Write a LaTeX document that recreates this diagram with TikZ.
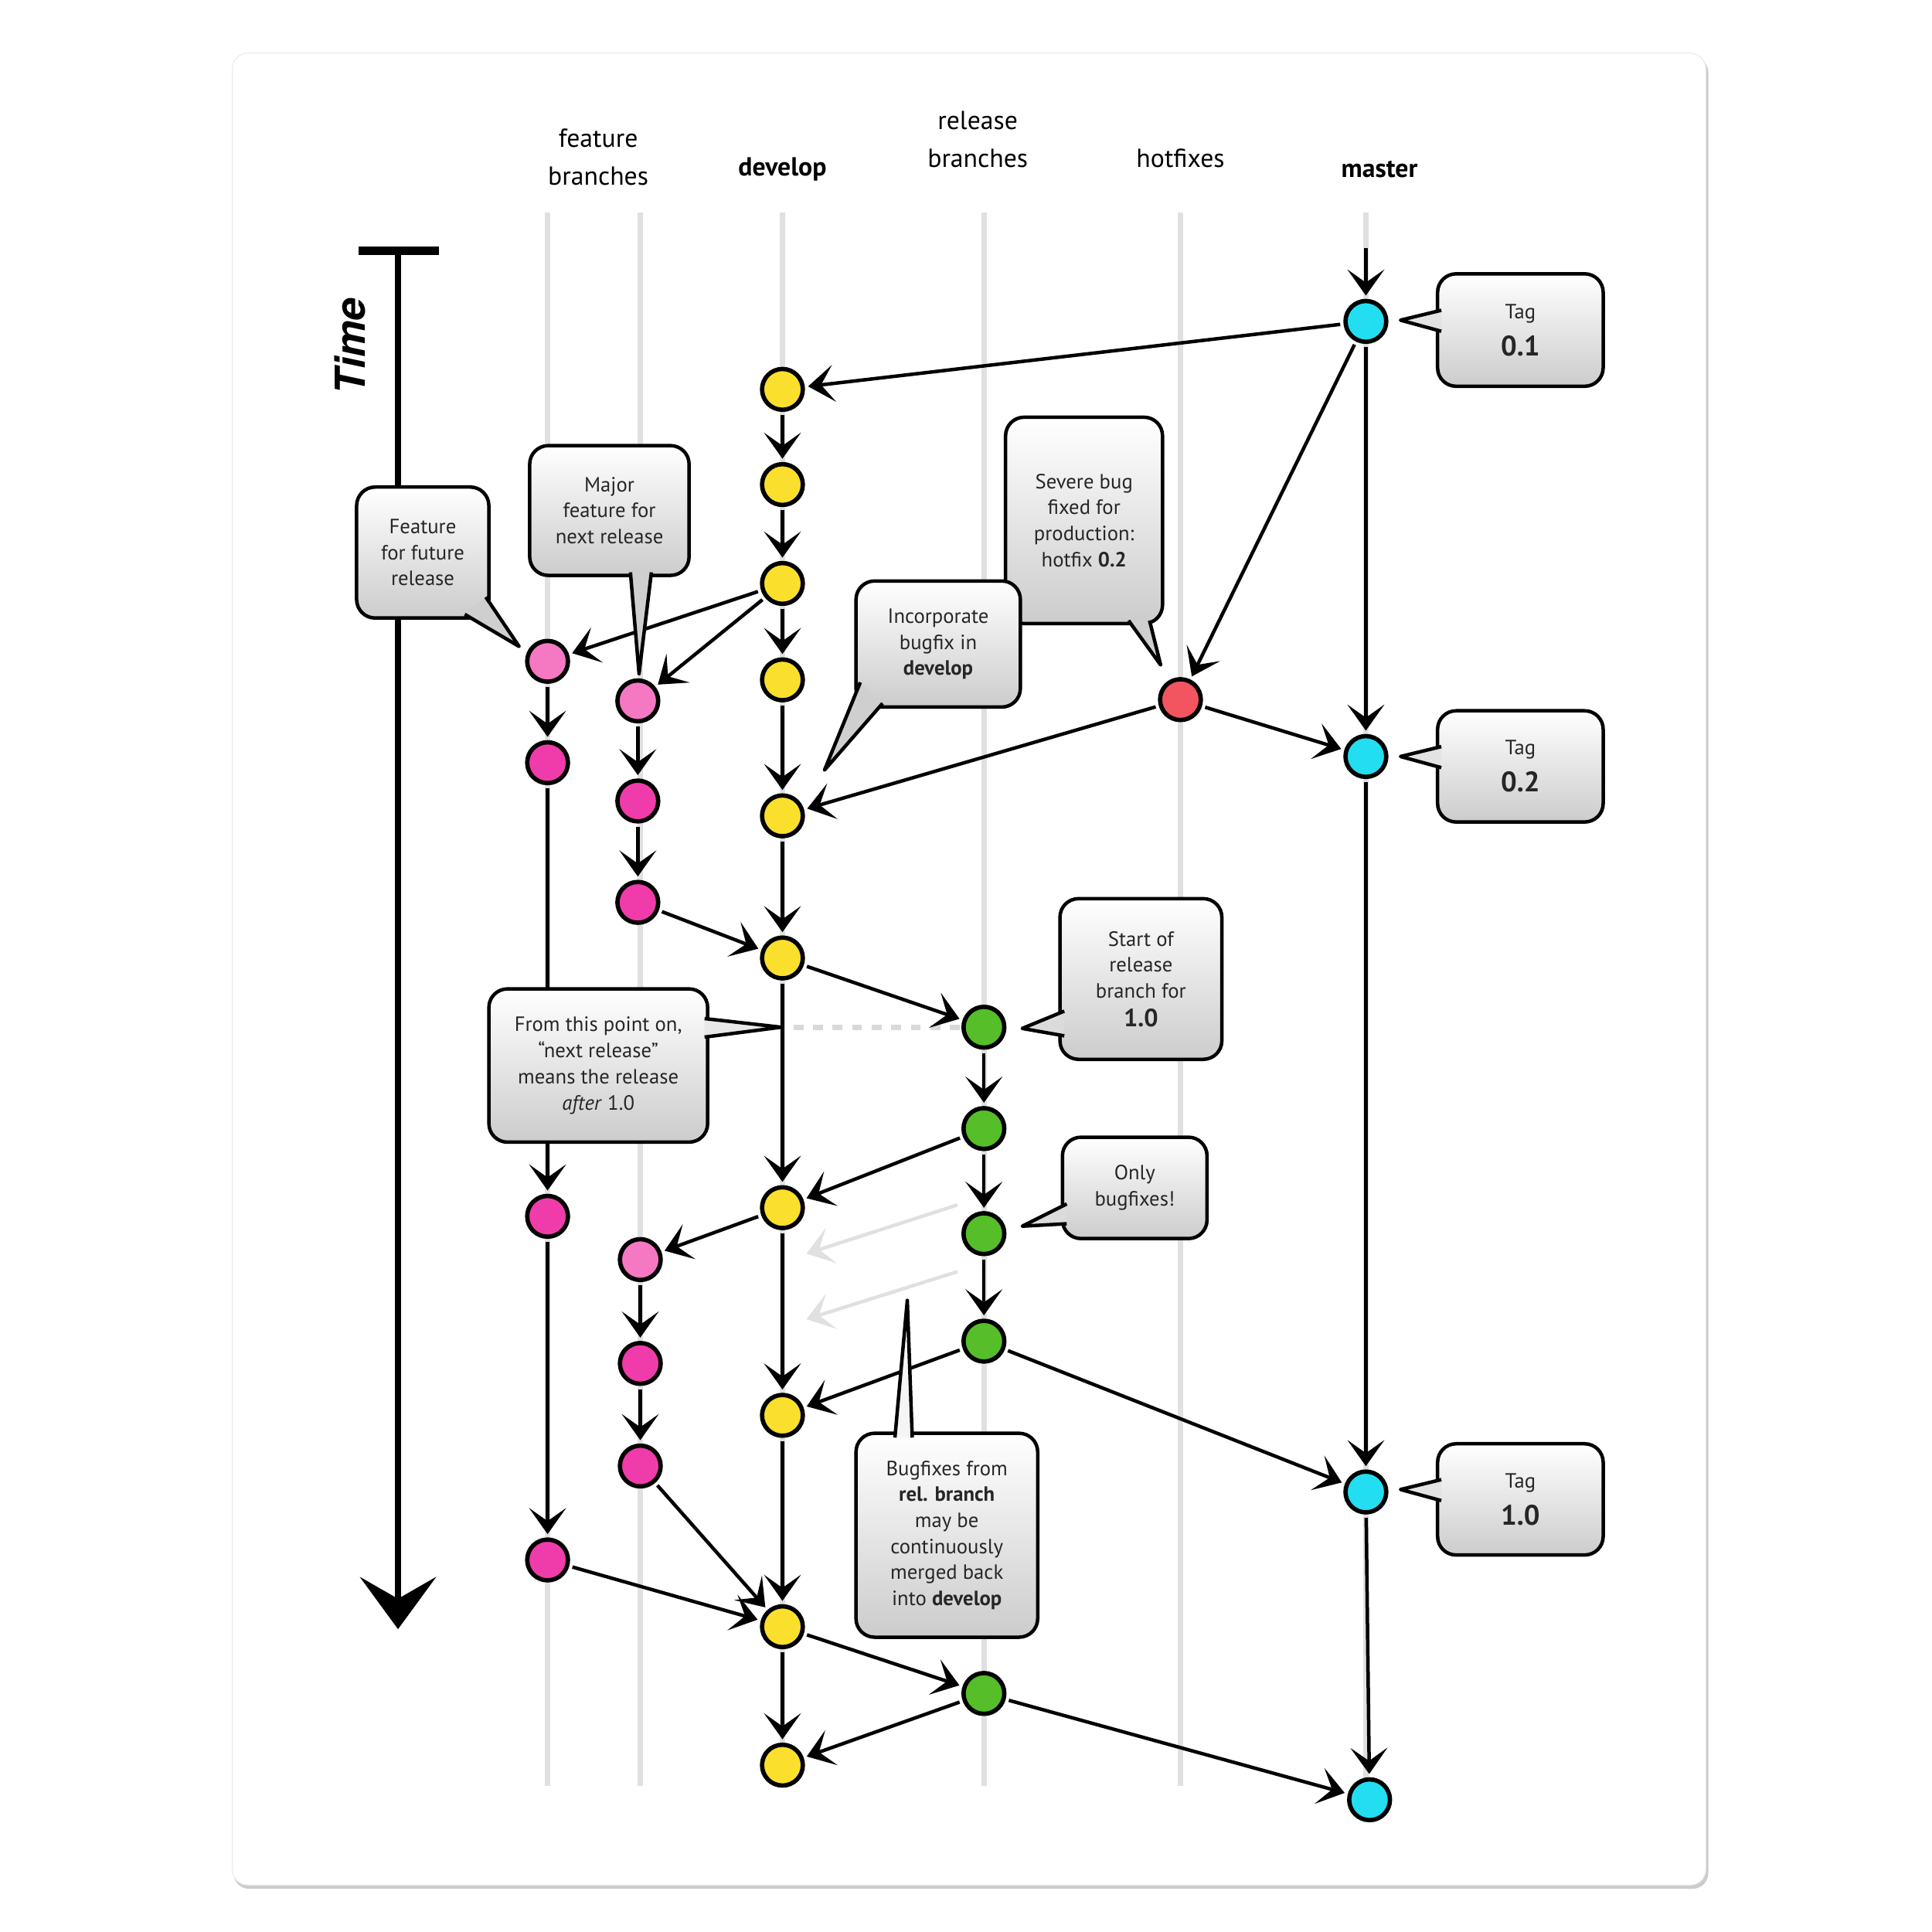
\documentclass[tikz,border=0pt]{standalone}
\usepackage{fontspec}
\setmainfont{PT Sans}
\newfontfamily\timefont{TeX Gyre Heros}
\usepackage{xcolor}
\usepackage{tikz}
\usetikzlibrary{arrows.meta, calc}

\definecolor{devyellow}{RGB}{250,224,45}
\definecolor{mastercyan}{RGB}{35,222,240}
\definecolor{hotred}{RGB}{242,85,95}
\definecolor{relgreen}{RGB}{85,190,40}
\definecolor{featpink}{RGB}{240,60,170}
\definecolor{featlight}{RGB}{245,120,195}

\tikzset{
  commit/.style={circle, draw=black, line width=2pt, minimum size=0.66cm, inner sep=0pt},
  flow/.style={line width=1.6pt, -{Stealth[length=12pt, width=17pt, inset=6pt]}, shorten >=1.5pt, shorten <=1.5pt},
  lane/.style={black!12, line width=2.5pt},
  bubble/.style={draw=black, line width=1.6pt, rounded corners=0.3cm, top color=white, bottom color=black!20,
    align=center, inner sep=2pt, font=\fontsize{9.5}{12}\selectfont, text=black!85},
  bubbletip/.style={draw=black, line width=1.6pt, fill=black!#1, line join=round},
  header/.style={font=\fontsize{12}{17.5}\selectfont, align=center}
}

\begin{document}
\begin{tikzpicture}[x=0.02cm, y=-0.02cm]
    \useasboundingbox (0,0) rectangle (1563,1563);

    % Card
    \fill[black!20, rounded corners=0.25cm] (189,46) rectangle (1382,1528);
    \draw[black!8, fill=white, rounded corners=0.25cm] (188,43) rectangle (1380,1525);

    % Headers
    \node[header] (hfeature) at (484,127) {feature\\branches};
    \node[header, font=\fontsize{12}{17.5}\selectfont\bfseries] (hdevelop) at (633,137) {develop};
    \node[header] (hrelease) at (791,113) {release\\branches};
    \node[header] (hhotfix) at (955,128) {hotfixes};
    \node[header, font=\fontsize{12}{17.5}\selectfont\bfseries] (hmaster) at (1116,137) {master};

    % Lanes
    \draw[lane] (443,172) -- (443,1445);
    \draw[lane] (518,172) -- (518,1445);
    \draw[lane] (633,172) -- (633,1445);
    \draw[lane] (796,172) -- (796,1445);
    \draw[lane] (955,172) -- (955,1445);
    \draw[lane] (1105,172) -- (1105,1445);

    % Time
    \draw[line width=4pt] (290,203) -- (355,203);
    \coordinate (ttop) at (322,205);
    \coordinate (tbot) at (322,1318);
    \draw[line width=2.8pt, -{Stealth[length=24pt, width=35pt, inset=10pt]}] (ttop) -- (tbot);
    \node[rotate=90, font=\timefont\fontsize{19}{22}\selectfont\bfseries\itshape] (tlabel) at (283,280) {Time};

    % Commits: master
    \node[commit, fill=mastercyan] (m1) at (1105,260) {};
    \node[commit, fill=mastercyan] (m2) at (1105,612) {};
    \node[commit, fill=mastercyan] (m3) at (1105,1207) {};
    \node[commit, fill=mastercyan] (m4) at (1108,1456) {};
    % hotfix
    \node[commit, fill=hotred] (hf) at (955,566) {};
    % develop
    \node[commit, fill=devyellow] (d1) at (633,315) {};
    \node[commit, fill=devyellow] (d2) at (633,392) {};
    \node[commit, fill=devyellow] (d3) at (633,472) {};
    \node[commit, fill=devyellow] (d4) at (633,550) {};
    \node[commit, fill=devyellow] (d5) at (633,660) {};
    \node[commit, fill=devyellow] (d6) at (633,775) {};
    \node[commit, fill=devyellow] (d7) at (633,977) {};
    \node[commit, fill=devyellow] (d8) at (633,1145) {};
    \node[commit, fill=devyellow] (d9) at (633,1316) {};
    \node[commit, fill=devyellow] (d10) at (633,1428) {};
    % feature branches
    \node[commit, fill=featlight] (fa1) at (443,535) {};
    \node[commit, fill=featpink] (fa2) at (443,617) {};
    \node[commit, fill=featpink] (fa3) at (443,984) {};
    \node[commit, fill=featpink] (fa4) at (443,1262) {};
    \node[commit, fill=featlight] (fb1) at (516,567) {};
    \node[commit, fill=featpink] (fb2) at (516,648) {};
    \node[commit, fill=featpink] (fb3) at (516,730) {};
    \node[commit, fill=featlight] (fb4) at (518,1019) {};
    \node[commit, fill=featpink] (fb5) at (518,1103) {};
    \node[commit, fill=featpink] (fb6) at (518,1186) {};
    % release
    \node[commit, fill=relgreen] (r1) at (796,831) {};
    \node[commit, fill=relgreen] (r2) at (796,913) {};
    \node[commit, fill=relgreen] (r3) at (796,998) {};
    \node[commit, fill=relgreen] (r4) at (796,1085) {};
    \node[commit, fill=relgreen] (r5) at (796,1370) {};

    % Dashed marker and faded merges
    \coordinate (cut) at (642,831);
    \draw[black!15, line width=2.5pt, dash pattern=on 4.5pt off 4.5pt] (cut) -- (r1);
    \coordinate (fade1) at (777,974);
    \coordinate (fade2) at (650,1015);
    \coordinate (fade3) at (777,1028);
    \coordinate (fade4) at (650,1068);
    \draw[flow, black!12] (fade1) -- (fade2);
    \draw[flow, black!12] (fade3) -- (fade4);

    % Master line
    \coordinate (mtop) at (1105,198);
    \draw[flow] (mtop) -- (m1);
    \draw[flow] (m1) -- (m2);
    \draw[flow] (m2) -- (m3);
    \draw[flow] (m3) -- (m4);
    \draw[flow] (m1) -- (d1);
    \draw[flow] (m1) -- (hf);
    \draw[flow] (hf) -- (m2);
    \draw[flow] (hf) -- (d5);

    % Develop line
    \draw[flow] (d1) -- (d2);
    \draw[flow] (d2) -- (d3);
    \draw[flow] (d3) -- (d4);
    \draw[flow] (d4) -- (d5);
    \draw[flow] (d5) -- (d6);
    \draw[flow] (d6) -- (d7);
    \draw[flow] (d7) -- (d8);
    \draw[flow] (d8) -- (d9);
    \draw[flow] (d9) -- (d10);

    % Feature branches
    \draw[flow] (d3) -- (fa1);
    \draw[flow] (d3) -- (fb1);
    \draw[flow] (fa1) -- (fa2);
    \draw[flow] (fa2) -- (fa3);
    \draw[flow] (fa3) -- (fa4);
    \draw[flow] (fa4) -- (d9);
    \draw[flow] (fb1) -- (fb2);
    \draw[flow] (fb2) -- (fb3);
    \draw[flow] (fb3) -- (d6);
    \draw[flow] (d7) -- (fb4);
    \draw[flow] (fb4) -- (fb5);
    \draw[flow] (fb5) -- (fb6);
    \draw[flow] (fb6) -- (d9);

    % Release branches
    \draw[flow] (d6) -- (r1);
    \draw[flow] (r1) -- (r2);
    \draw[flow] (r2) -- (r3);
    \draw[flow] (r3) -- (r4);
    \draw[flow] (r2) -- (d7);
    \draw[flow] (r4) -- (d8);
    \draw[flow] (r4) -- (m3);
    \draw[flow] (d9) -- (r5);
    \draw[flow] (r5) -- (d10);
    \draw[flow] (r5) -- (m4);

    % Callouts
    \node[bubble, minimum width=2.68cm, minimum height=1.82cm] (tag1) at (1230,267)
        {Tag\\[5pt]{\fontsize{13}{15}\selectfont\bfseries 0.1}};
    \filldraw[bubbletip=11] (1166,251) -- (1133,259) -- (1166,268);
    \node[bubble, minimum width=2.68cm, minimum height=1.80cm] (tag2) at (1230,620)
        {Tag\\[5pt]{\fontsize{13}{15}\selectfont\bfseries 0.2}};
    \filldraw[bubbletip=11] (1166,604) -- (1133,612) -- (1166,621);
    \node[bubble, minimum width=2.68cm, minimum height=1.80cm] (tag3) at (1230,1213)
        {Tag\\[5pt]{\fontsize{13}{15}\selectfont\bfseries 1.0}};
    \filldraw[bubbletip=11] (1166,1197) -- (1133,1205) -- (1166,1214);

    \node[bubble, minimum width=2.14cm, minimum height=2.12cm] (futurenote) at (342,447)
        {Feature\\for future\\release};
    \filldraw[bubbletip=19] (376,497) -- (420,523) -- (393,483);

    \node[bubble, minimum width=2.58cm, minimum height=2.10cm] (majornote) at (493,413)
        {Major\\feature for\\next release};
    \filldraw[bubbletip=19] (510,463) -- (517,545) -- (527,463);

    \node[bubble, minimum width=2.54cm, minimum height=3.34cm] (severenote) at (877,421)
        {Severe bug\\fixed for\\production:\\hotfix \textbf{0.2}};
    \filldraw[bubbletip=19] (913,502) -- (939,538) -- (930,502);

    \node[bubble, minimum width=2.66cm, minimum height=2.04cm] (incorpnote) at (759,521)
        {Incorporate\\bugfix in\\\textbf{develop}};
    \filldraw[bubbletip=19] (696,552) -- (667,623) -- (714,569);

    \node[bubble, minimum width=2.62cm, minimum height=2.60cm] (startnote) at (923,792)
        {Start of\\release\\branch for\\[1pt]{\fontsize{11.5}{14}\selectfont\bfseries 1.0}};
    \filldraw[bubbletip=14] (861,818) -- (827,832) -- (861,838);

    \node[bubble, minimum width=3.54cm, minimum height=2.48cm] (fromnote) at (484,862)
        {From this point on,\\“next release”\\means the release\\\textit{after} 1.0};
    \filldraw[bubbletip=9] (570,824) -- (632,831) -- (570,839);

    \node[bubble, minimum width=2.34cm, minimum height=1.64cm] (onlynote) at (918,961)
        {Only\\bugfixes!};
    \filldraw[bubbletip=14] (863,974) -- (827,992) -- (863,990);

    \node[bubble, minimum width=2.94cm, minimum height=3.30cm] (bugnote) at (766,1242)
        {Bugfixes from\\\textbf{rel. branch}\\may be\\continuously\\merged back\\into \textbf{develop}};
    \filldraw[bubbletip=4] (724,1163) -- (734,1052) -- (738,1163);
\end{tikzpicture}
\end{document}
